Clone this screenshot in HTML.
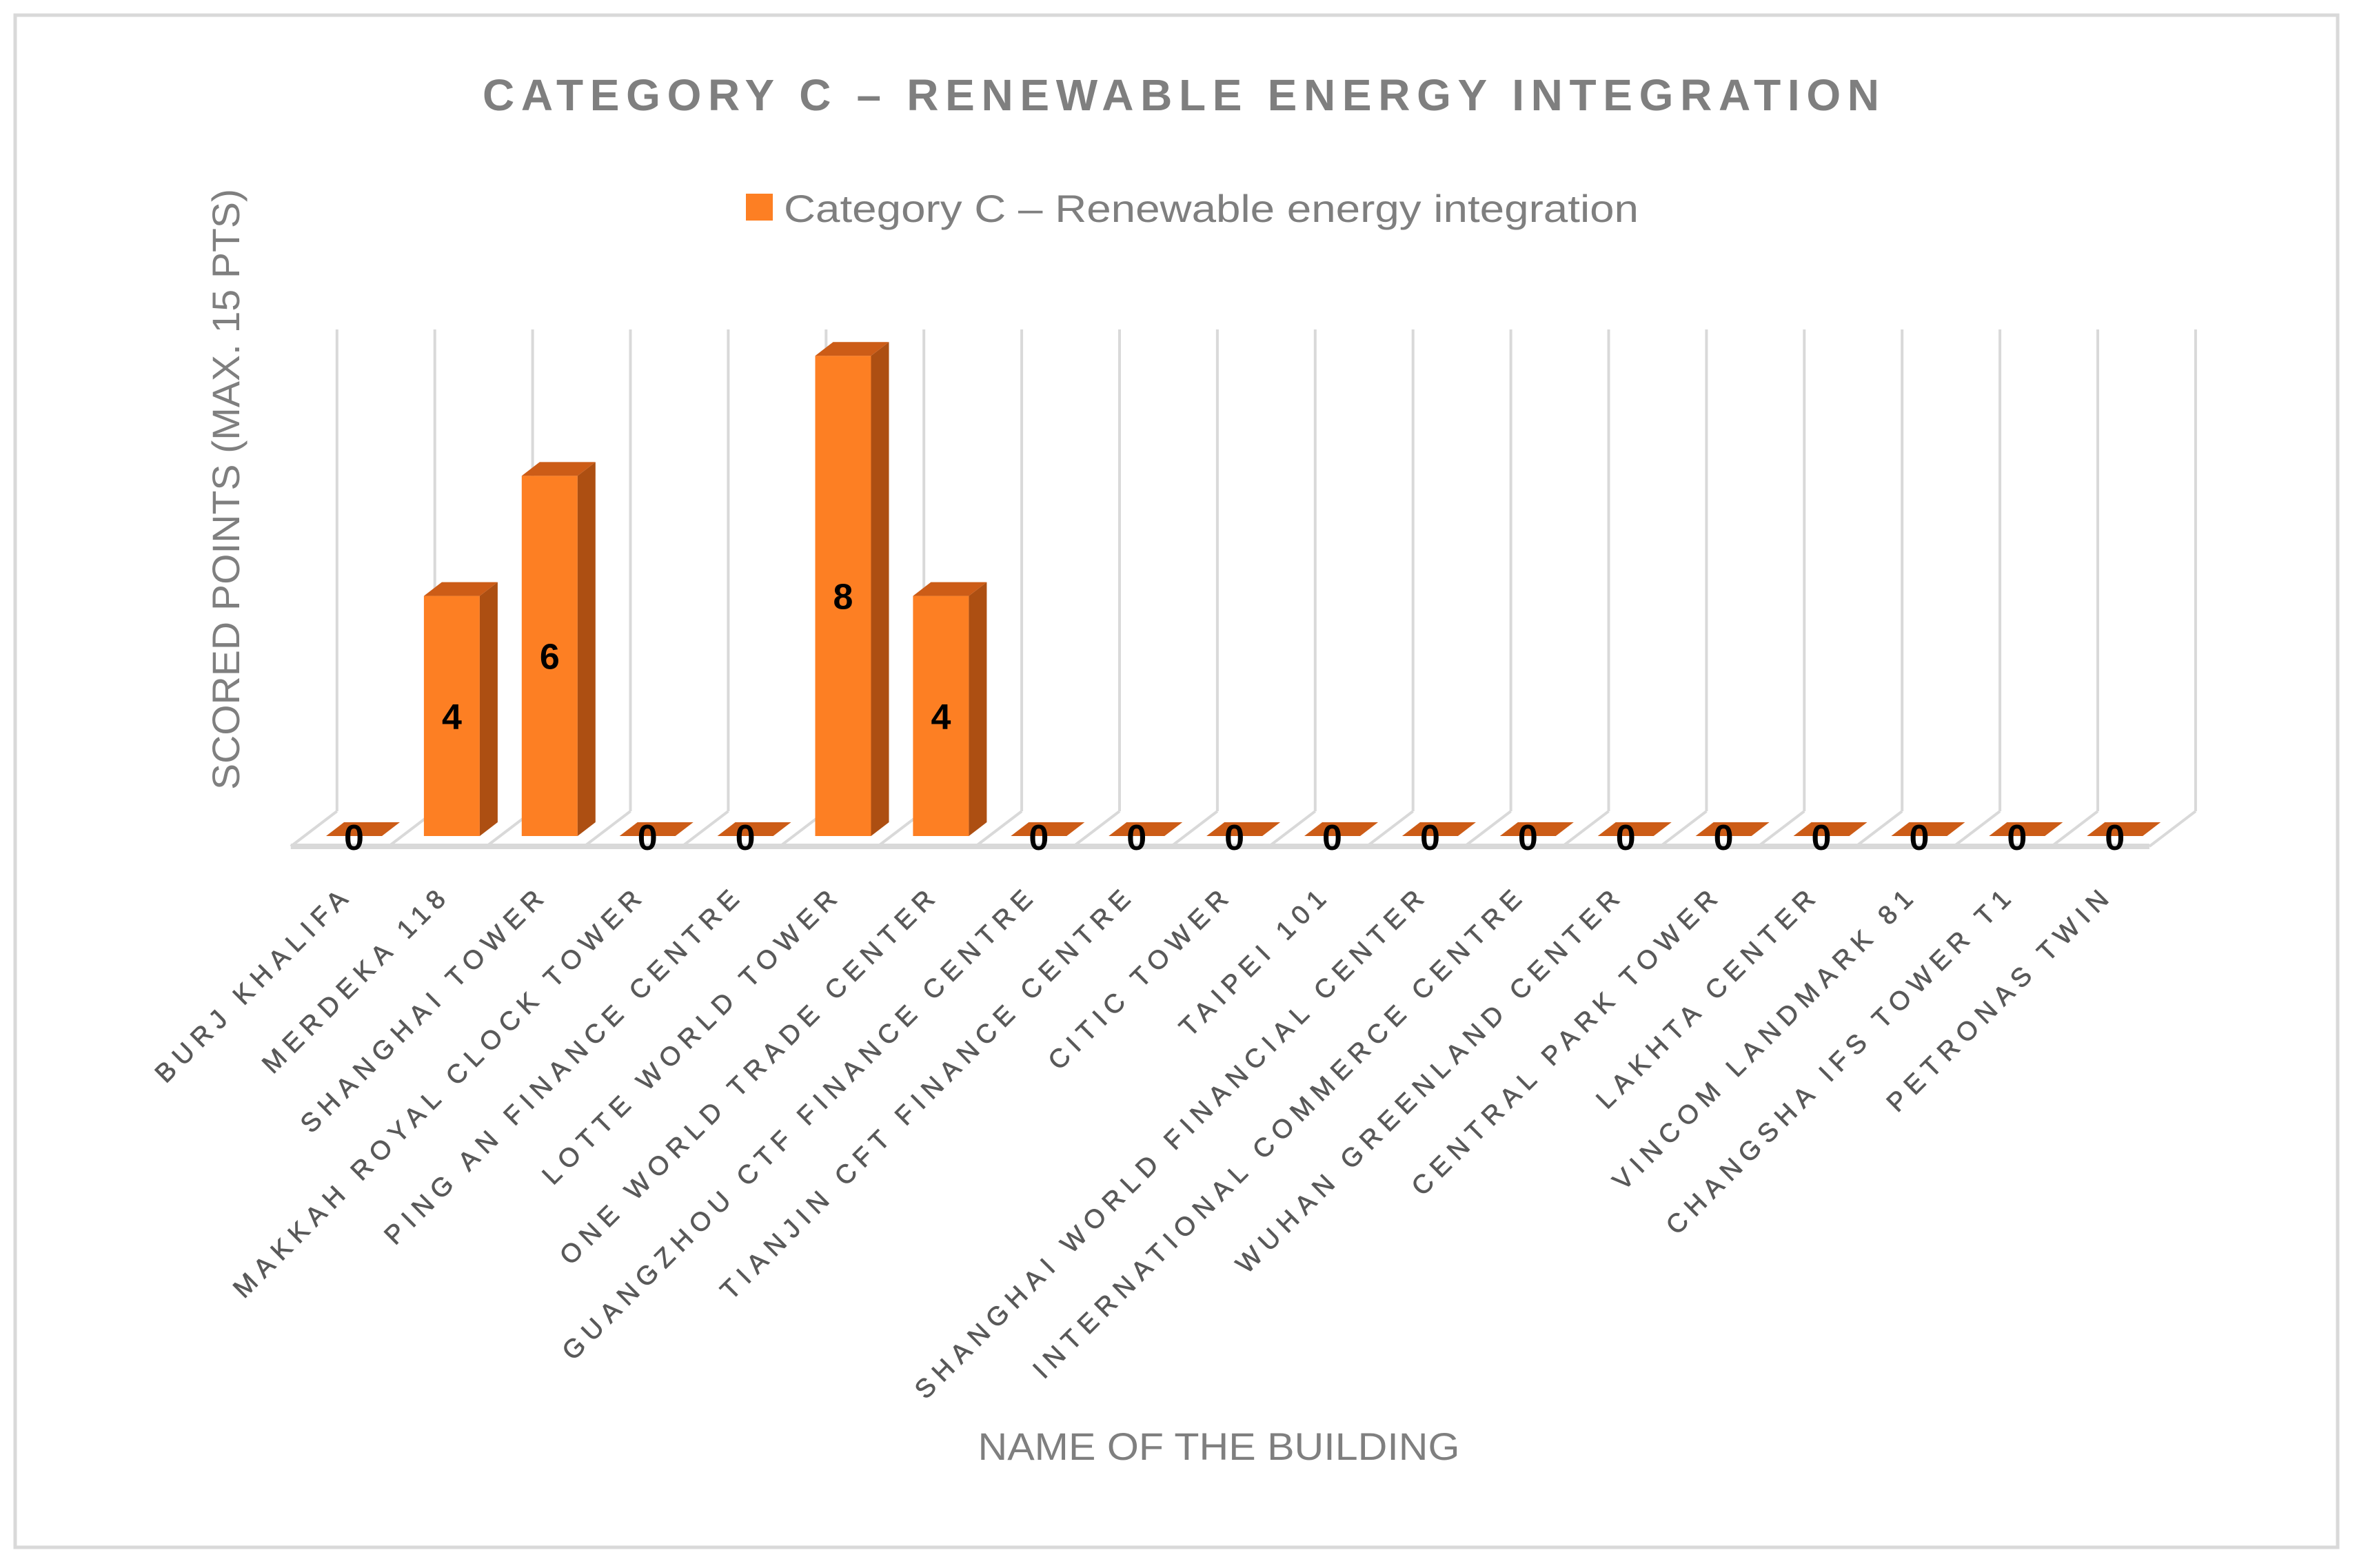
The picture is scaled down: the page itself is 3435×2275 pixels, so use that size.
<!DOCTYPE html>
<html><head><meta charset="utf-8"><style>
html,body{margin:0;padding:0;background:#fff}
svg{display:block}
text{font-family:"Liberation Sans",sans-serif}
</style></head><body>
<svg id="chart" width="3435" height="2275" viewBox="0 0 3435 2275" xmlns="http://www.w3.org/2000/svg">
<rect x="22" y="22" width="3369" height="2223" fill="#fff" stroke="#d9d9d9" stroke-width="5"/>
<text x="1713" y="160" text-anchor="middle" font-size="64" font-weight="bold" fill="#7f7f7f" textLength="2026" lengthAdjust="spacing">CATEGORY C – RENEWABLE ENERGY INTEGRATION</text>
<g>
<rect x="1082" y="281" width="39" height="39" fill="#fd7f23"/>
<text x="1137" y="322" font-size="56" fill="#7f7f7f" textLength="1240" lengthAdjust="spacingAndGlyphs">Category C – Renewable energy integration</text>
</g>
<text transform="translate(347,710) rotate(-90)" text-anchor="middle" font-size="56" fill="#7f7f7f" textLength="872" lengthAdjust="spacingAndGlyphs">SCORED POINTS (MAX. 15 PTS)</text>
<text x="1768" y="2118" text-anchor="middle" font-size="56" fill="#7f7f7f" textLength="699" lengthAdjust="spacingAndGlyphs">NAME OF THE BUILDING</text>
<g id="grid"></g>
<g id="bars"></g>
<g id="labels"></g>
</svg>
<script>
const categories = ["BURJ KHALIFA","MERDEKA 118","SHANGHAI TOWER","MAKKAH ROYAL CLOCK TOWER","PING AN FINANCE CENTRE","LOTTE WORLD TOWER","ONE WORLD TRADE CENTER","GUANGZHOU CTF FINANCE CENTRE","TIANJIN CFT FINANCE CENTRE","CITIC TOWER","TAIPEI 101","SHANGHAI WORLD FINANCIAL CENTER","INTERNATIONAL COMMERCE CENTRE","WUHAN GREENLAND CENTER","CENTRAL PARK TOWER","LAKHTA CENTER","VINCOM LANDMARK 81","CHANGSHA IFS TOWER T1","PETRONAS TWIN"];
const values = [0,4,6,0,0,8,4,0,0,0,0,0,0,0,0,0,0,0,0];

const NS="http://www.w3.org/2000/svg";
const step=141.9, backX0=488.8, gridTop=478, backY=1177, frontY=1228, floorDx=-67;
const baseY=1213, unit=87.1, barW=81, dx=26, dy=-20, barX0=473;
function xBar(i){return barX0+step*i;}
function yVal(v){return baseY-v*unit;}
function mk(tag,attrs,parent){const e=document.createElementNS(NS,tag);for(const k in attrs)e.setAttribute(k,attrs[k]);parent.appendChild(e);return e;}

const grid=document.getElementById('grid');
const gs={stroke:"#d9d9d9","stroke-width":4,fill:"none"};
for(let j=0;j<=categories.length;j++){
  const gx=backX0+step*j;
  const l=mk('line',Object.assign({x1:gx,y1:gridTop,x2:gx,y2:backY},gs),grid);
  
  
  const d=mk('line',Object.assign({x1:gx,y1:backY,x2:gx+floorDx,y2:frontY},gs),grid);
  
  
}
const n=categories.length;
const fl=mk('line',Object.assign({x1:backX0+floorDx,y1:frontY,x2:backX0+step*n+floorDx,y2:frontY},gs,{"stroke-width":8}),grid);



const bars=document.getElementById('bars');
values.forEach((v,i)=>{
  const x=xBar(i), yt=yVal(v);
  const g=mk('g',{},bars);
  
  
  if(v>0){
    mk('rect',{x:x,y:yt,width:barW,height:baseY-yt,fill:"#fd7f23"},g);
    mk('polygon',{points:`${x+barW},${yt} ${x+barW+dx},${yt+dy} ${x+barW+dx},${baseY+dy} ${x+barW},${baseY}`,fill:"#ad4f12"},g);
  }
  mk('polygon',{points:`${x},${yt} ${x+barW},${yt} ${x+barW+dx},${yt+dy} ${x+dx},${yt+dy}`,fill:"#cc5c17"},g);
  const t=mk('text',{x:x+barW/2,y:v>0?(yt+baseY)/2+19:baseY+20,"text-anchor":"middle","font-size":52,"font-weight":"bold",fill:"#000"},g);
  
  
  t.textContent=v;
});

const labels=document.getElementById('labels');
categories.forEach((c,i)=>{
  const cx=xBar(i)+barW/2;
  const t=mk('text',{transform:`translate(${cx},1300) rotate(-45)`,"text-anchor":"end","font-size":38,"letter-spacing":10,fill:"#595959",stroke:"#595959","stroke-width":0.8},labels);
  
  
  t.textContent=c;
});
</script>
</body></html>
